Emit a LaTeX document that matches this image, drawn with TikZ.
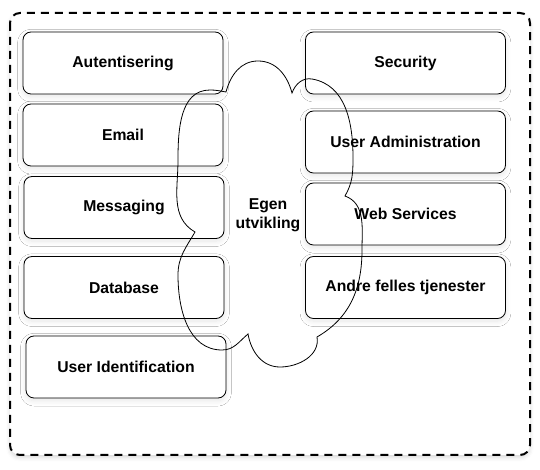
\documentclass[tikz,border=0pt]{standalone}
\usepackage{fontspec}
\setmainfont{Liberation Sans}
\usetikzlibrary{positioning, shadows.blur}

\begin{document}
\begin{tikzpicture}[x=0.75pt, y=-0.75pt,
        tjeneste/.style={draw, fill=white, rounded corners=6pt, line width=0.6pt,
            minimum width=150pt, minimum height=46.5pt, font=\bfseries\fontsize{11.8}{14}\selectfont,
            blur shadow={shadow xshift=0pt, shadow yshift=-2pt, shadow blur radius=4pt, shadow blur steps=10, shadow opacity=10}},
        ramme/.style={fill=white, line width=1.5pt, dash pattern=on 6pt off 4.5pt, rounded corners=7.5pt},
        sky/.style={line width=0.6pt}]
        \useasboundingbox (0,0) rectangle (540,470);
        % Dashed frame
        \draw[ramme, blur shadow={shadow xshift=0pt, shadow yshift=-2pt, shadow blur radius=3pt, shadow opacity=15}] (10,13) rectangle (530,455);
        % Left column
        \node[tjeneste] (aut) at (123,63) {Autentisering};
        \node[tjeneste] (email) at (123,135) {Email};
        \node[tjeneste] (msg) at (124,207.5) {Messaging};
        \node[tjeneste] (db) at (124,287.5) {Database};
        \node[tjeneste] (uid) at (126,367) {User Identification};
        % Right column
        \node[tjeneste] (sec) at (405.5,63) {Security};
        \node[tjeneste] (uadm) at (405.5,142) {User Administration};
        \node[tjeneste] (web) at (405.5,214) {Web Services};
        \node[tjeneste] (andre) at (405.5,287.5) {Andre felles tjenester};
        % Cloud
        \draw[sky] (226,92) to[out=75,in=180] (258,61) to[out=0,in=105] (292,93)
            to[out=70,in=170] (312,79) to[out=-10,in=90] (353,158) to[out=-90,in=60] (345,196)
            to[out=-20,in=90] (362,250) to[out=-90,in=30] (317,337)
            to[out=-80,in=0] (280,367) to[out=180,in=-80] (248,334)
            to[out=-140,in=0] (222,350) to[out=180,in=-90] (178,275) to[out=90,in=-120] (195,232)
            to[out=150,in=-90] (178,160) to[out=90,in=180] (210,90) to[out=0,in=170] cycle;
        \node[font=\bfseries\fontsize{11.8}{14}\selectfont, align=center, inner sep=0pt] (egen) at (268,215) {Egen\\utvikling};
\end{tikzpicture}
\end{document}
